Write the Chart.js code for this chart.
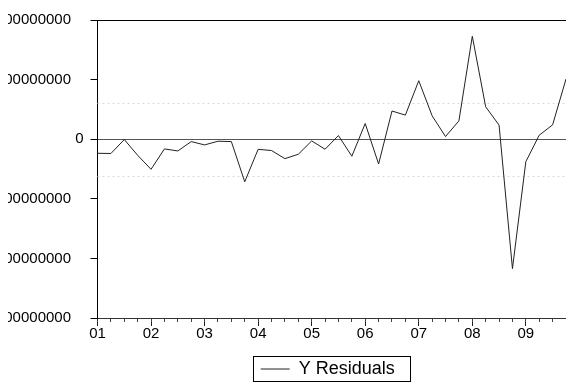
<!DOCTYPE html>
<html>
<head>
<meta charset="utf-8">
<title>Y Residuals</title>
<script src="https://cdn.jsdelivr.net/npm/chart.js@4"></script>
<style>
    html, body { margin:0; padding:0; background:#fff; overflow:hidden; }
    #wrap { position:absolute; left:8px; top:0; width:562px; height:385px; }
</style>
</head>
<body>
<div id="wrap"><canvas id="residChart"></canvas></div>
<script>
// quarterly observations 2001Q1 - 2009Q4
const quarters = [
    '2001Q1','2001Q2','2001Q3','2001Q4',
    '2002Q1','2002Q2','2002Q3','2002Q4',
    '2003Q1','2003Q2','2003Q3','2003Q4',
    '2004Q1','2004Q2','2004Q3','2004Q4',
    '2005Q1','2005Q2','2005Q3','2005Q4',
    '2006Q1','2006Q2','2006Q3','2006Q4',
    '2007Q1','2007Q2','2007Q3','2007Q4',
    '2008Q1','2008Q2','2008Q3','2008Q4',
    '2009Q1','2009Q2','2009Q3','2009Q4'
];

const residuals = [
    -23600000, -24000000, -600000, -27000000,
    -50500000, -16300000, -19700000, -4000000,
    -9600000, -3400000, -4000000, -71400000,
    -17000000, -19000000, -32600000, -25300000,
    -2900000, -16800000, 6100000, -28600000,
    26300000, -41600000, 47300000, 40400000,
    98100000, 39200000, 4400000, 30800000,
    172700000, 54400000, 23600000, -217200000,
    -37700000, 6700000, 24100000, 101000000
];

const yTicks = [200000000, 100000000, 0, -100000000, -200000000, -300000000];

// dotted reference lines
const bandLevels = [61000000, -61000000];

const fontFamily = "'Liberation Sans', Arial, sans-serif";

const bandPlugin = {
    id:'bands',
    beforeDatasetsDraw(chart){
        const {ctx, chartArea, scales} = chart;
        ctx.save();
        ctx.strokeStyle = '#d9d9d9';
        ctx.lineWidth = 1;
        ctx.setLineDash([2, 3]);
        bandLevels.forEach(v => {
            const y = Math.round(scales.y.getPixelForValue(v)) + 0.5;
            ctx.beginPath();
            ctx.moveTo(chartArea.left, y);
            ctx.lineTo(chartArea.right, y);
            ctx.stroke();
        });
        ctx.restore();
    }
};

// nudge the legend a little and frame it
const legendBoxPlugin = {
    id:'legendBox',
    afterLayout(chart){
        const lg = chart.legend;
        if(!lg) return;
        lg.left -= 4;
        lg.right -= 4;
        lg.top += 3;
        lg.bottom += 3;
    },
    afterDraw(chart){
        const boxes = chart.legend.legendHitBoxes;
        if(!boxes || !boxes.length) return;
        const b = boxes[0];
        const ctx = chart.ctx;
        ctx.save();
        ctx.strokeStyle = '#000';
        ctx.lineWidth = 1;
        ctx.strokeRect(Math.round(b.left - 8) + 0.5, Math.round(b.top - 4) + 0.5,
            Math.round(b.width + 23), Math.round(b.height + 7));
        ctx.restore();
    }
};

Chart.defaults.font.family = fontFamily;
Chart.defaults.color = '#000';

const el = document.getElementById('residChart');

new Chart(el, {
    type:'line',

    data:{
        labels: quarters,

        datasets:[{
            label:'Y Residuals',
            data: residuals,
            borderColor:'#222',
            backgroundColor:'#222',
            borderWidth:1,
            pointRadius:0,
            tension:0,
            xAxisID:'x',
            yAxisID:'y'
        }]
    },

    options:{
        responsive:true,
        maintainAspectRatio:false,
        animation:false,

        layout:{
            padding:{ top:20, right:4, left:0, bottom:0 }
        },

        plugins:{
            tooltip:{ enabled:false },
            legend:{
                position:'bottom',
                fullSize:false,
                labels:{
                    usePointStyle:true,
                    pointStyle:'line',
                    pointStyleWidth:29,
                    color:'#000',
                    font:{ size:18 },
                    padding:15
                }
            }
        },

        scales:{
            x:{
                type:'category',
                position:'bottom',
                offset:false,
                grid:{
                    drawOnChartArea:false,
                    tickLength:8,
                    tickColor: c => (quarters[c.index] || '').endsWith('Q1') ? '#222' : 'rgba(0,0,0,0)'
                },
                border:{ color:'#333', width:1 },
                ticks:{
                    autoSkip:false,
                    maxRotation:0,
                    padding:-1,
                    font:{ size:15 },
                    color:'#000',
                    callback:(value, index) => {
                        const q = quarters[index];
                        return q.endsWith('Q1') ? q.slice(2, 4) : '';
                    }
                }
            },
            xq:{
                type:'category',
                axis:'x',
                position:{ y:-300000000 },
                offset:false,
                grid:{
                    drawOnChartArea:false,
                    tickLength:4,
                    tickColor:'#444'
                },
                border:{ display:false },
                ticks:{ display:false, autoSkip:false }
            },
            xtop:{
                type:'category',
                position:'top',
                offset:false,
                grid:{ drawOnChartArea:false, drawTicks:false },
                border:{ color:'#000', width:1 },
                ticks:{ display:false }
            },
            y:{
                type:'linear',
                min:-300000000,
                max:200000000,
                afterBuildTicks: scale => {
                    scale.ticks = yTicks.map(v => ({ value:v }));
                },
                afterFit: scale => {
                    scale.width = 89.5;
                },
                grid:{
                    tickLength:7,
                    tickColor:'#000',
                    color: c => c.tick && c.tick.value === 0 ? '#555' : 'rgba(0,0,0,0)'
                },
                border:{ color:'#000', width:1 },
                ticks:{
                    padding:7,
                    font:{ size:15 },
                    color:'#000',
                    callback: v => v === 0 ? '0' : String(v) + '   '
                }
            }
        }
    },

    plugins:[bandPlugin, legendBoxPlugin]
});
</script>
</body>
</html>
